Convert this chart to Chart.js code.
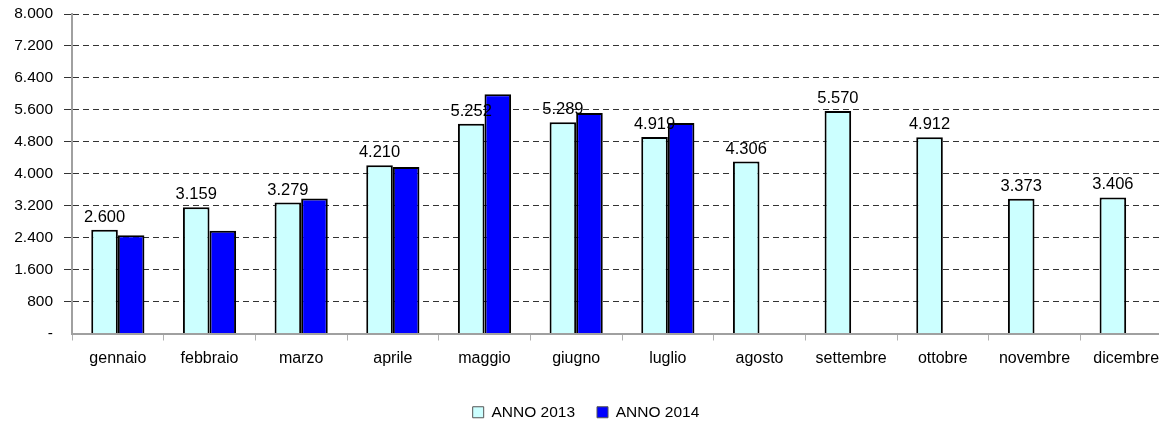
<!DOCTYPE html>
<html>
<head>
<meta charset="utf-8">
<script src="https://cdn.jsdelivr.net/npm/chart.js@4/dist/chart.umd.min.js"></script>
<style>
  html, body { margin: 0; padding: 0; background: #fff; overflow: hidden; }
  #box { width: 1172px; height: 430px; }
</style>
</head>
<body>
<div id="box"><canvas id="myChart"></canvas></div>
<script>
const mesi = ['gennaio', 'febbraio', 'marzo', 'aprile', 'maggio', 'giugno',
  'luglio', 'agosto', 'settembre', 'ottobre', 'novembre', 'dicembre'];
const anno2013 = [2600, 3159, 3279, 4210, 5252, 5289, 4919, 4306, 5570, 4912, 3373, 3406];
const anno2014 = [2460, 2570, 3380, 4170, 5990, 5520, 5270, null, null, null, null, null];
const yMax = 8000;
const yStep = 800;

const FONT = 'Arial, "Liberation Sans", sans-serif';

// 2600 -> "2.600"
const fmt = (n) => String(n).replace(/\B(?=(\d{3})+(?!\d))/g, '.');

// values above the 2013 bars
const valueLabels = {
  id: 'valueLabels',
  afterDatasetsDraw(chart) {
    const ctx = chart.ctx;
    const meta = chart.getDatasetMeta(0);
    ctx.save();
    ctx.font = '16.5px ' + FONT;
    ctx.fillStyle = '#000';
    ctx.textAlign = 'center';
    ctx.textBaseline = 'alphabetic';
    meta.data.forEach((bar, i) => {
      const v = anno2013[i];
      if (v == null) return;
      ctx.fillText(fmt(v), bar.x, bar.y - 8);
    });
    ctx.restore();
  },
};

const ctx = document.getElementById('myChart');

new Chart(ctx, {
  type: 'bar',
  data: {
    labels: mesi,
    datasets: [
      {
        label: 'ANNO 2013',
        data: anno2013,
        backgroundColor: '#CCFFFF',
        borderColor: '#000',
        borderWidth: 2,
      },
      {
        label: 'ANNO 2014',
        data: anno2014,
        backgroundColor: '#0000FF',
        borderColor: '#000',
        borderWidth: 2,
      },
    ],
  },
  options: {
    responsive: true,
    maintainAspectRatio: false,
    animation: false,
    categoryPercentage: 0.58,
    barPercentage: 1,
    layout: { padding: { top: 14, left: 0, right: 0, bottom: 0 } },
    plugins: {
      tooltip: { enabled: false },
      legend: {
        position: 'bottom',
        labels: {
          boxWidth: 11,
          boxHeight: 11,
          padding: 22,
          color: '#000',
          font: { family: FONT, size: 15.5 },
          // thinner grey outline on the legend boxes
          generateLabels: (chart) => {
            const items = Chart.defaults.plugins.legend.labels.generateLabels(chart);
            items.forEach((it) => {
              it.lineWidth = 1;
              it.strokeStyle = '#555';
            });
            return items;
          },
        },
      },
    },
    scales: {
      x: {
        afterFit: (scale) => { scale.height = 49; },
        grid: {
          drawOnChartArea: false,
          drawTicks: true,
          tickLength: 7,
          color: '#b0b0b0',
        },
        border: { color: '#a0a0a0', width: 2 },
        ticks: {
          color: '#000',
          padding: 8,
          maxRotation: 0,
          autoSkip: false,
          font: { family: FONT, size: 16 },
        },
      },
      y: {
        min: 0,
        max: yMax,
        afterFit: (scale) => {
          scale.width = 72;
          scale.paddingTop = 0;
          scale.paddingBottom = 0;
        },
        grid: {
          color: (c) => (c.tick && c.tick.value === 0 ? 'rgba(0,0,0,0)' : '#333333'),
          lineWidth: 1,
          tickLength: 8,
        },
        border: { color: '#a0a0a0', width: 2, dash: [6, 4] },
        ticks: {
          stepSize: yStep,
          color: '#000',
          padding: 11,
          font: { family: FONT, size: 15.5 },
          callback: (v) => (v === 0 ? '-' : fmt(v)),
        },
      },
    },
  },
  plugins: [valueLabels],
});
</script>
</body>
</html>
